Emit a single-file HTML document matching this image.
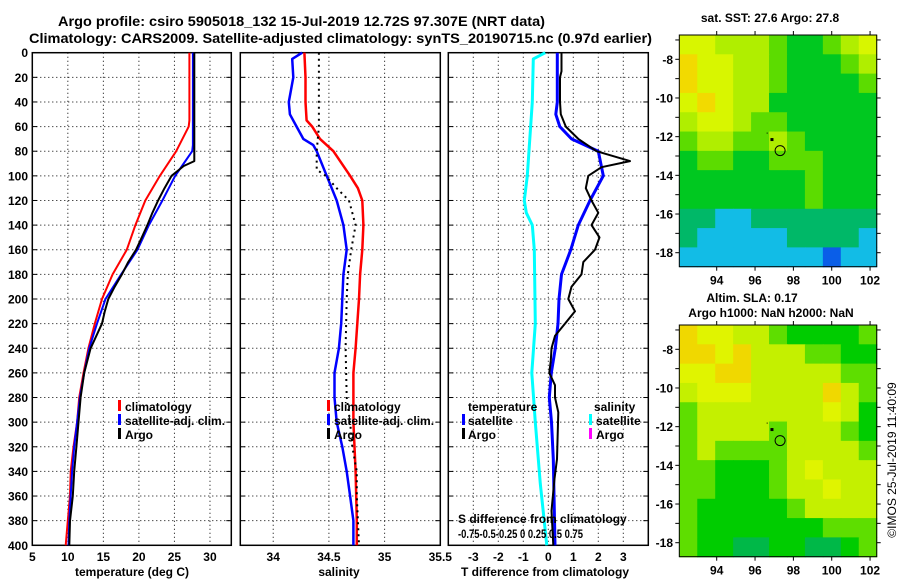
<!DOCTYPE html>
<html><head><meta charset="utf-8">
<style>
html,body{margin:0;padding:0;background:#fff;}
svg{display:block;font-family:"Liberation Sans",Arial,sans-serif;font-weight:bold;}
</style></head>
<body>
<svg id="fig" xmlns="http://www.w3.org/2000/svg" width="900" height="580" viewBox="0 0 900 580">
<rect x="0" y="0" width="900" height="580" fill="#fff"/>
<text x="58" y="26" font-size="14" textLength="487" lengthAdjust="spacingAndGlyphs">Argo profile: csiro 5905018_132 15-Jul-2019 12.72S 97.307E (NRT data)</text>
<text x="29" y="43" font-size="14" textLength="623" lengthAdjust="spacingAndGlyphs">Climatology: CARS2009. Satellite-adjusted climatology: synTS_20190715.nc (0.97d earlier)</text>
<text x="770" y="22" font-size="12" text-anchor="middle">sat. SST: 27.6 Argo: 27.8</text>
<text x="752" y="302" font-size="12" text-anchor="middle">Altim. SLA: 0.17</text>
<text x="771" y="317" font-size="12" text-anchor="middle">Argo h1000: NaN h2000: NaN</text>
<text x="0" y="0" font-size="12" font-weight="normal" text-anchor="middle" transform="translate(896,460) rotate(-90)">©IMOS 25-Jul-2019 11:40:09</text>
<g id="layer"></g>
</svg>
<script>
// ---- depth axis ----
const depthTicks = [0,20,40,60,80,100,120,140,160,180,200,220,240,260,280,300,320,340,360,380,400];
// ---- panel 1: temperature ----
const tClimDepth = [0,55,60,80,100,120,140,160,180,200,220,240,260,280,300,320,340,360,380,400];
const tClim = [27.1,27.1,27.0,25.25,22.95,20.9,19.5,18.3,16.3,14.8,13.8,12.9,12.2,11.6,11.3,10.8,10.4,10.3,10.0,9.7];
const tSatDepth = [0,75,80,90,100,120,140,160,180,200,220,240,260,280,300,320,340,360,380,400];
const tSat = [27.6,27.6,27.5,26.3,25.1,23.3,21.4,19.8,17.5,15.3,14.1,13.0,12.3,11.7,11.3,10.9,10.6,10.4,10.2,10.1];
const tArgoDepth = [0,88,92,100,110,120,130,140,150,160,170,180,190,200,210,220,240,260,280,300,320,340,360,380,400];
const tArgo = [27.8,27.8,26.3,24.6,23.6,22.7,21.9,21.2,20.4,19.6,18.5,17.6,16.6,15.7,15.2,14.8,13.2,12.3,11.8,11.5,11.2,10.9,10.7,10.3,10.2];
const tTicks = [5,10,15,20,25,30];
// ---- panel 2: salinity ----
const sClimDepth = [0,20,40,55,60,70,80,100,110,120,140,160,180,200,240,260,300,340,380,400];
const sClim = [34.28,34.29,34.29,34.30,34.35,34.42,34.54,34.69,34.76,34.80,34.81,34.80,34.78,34.77,34.74,34.72,34.72,34.74,34.75,34.75];
const sSatDepth = [0,5,20,40,50,60,70,75,80,100,120,140,160,180,200,220,240,260,280,300,320,340,360,380,400];
const sSat = [34.26,34.17,34.18,34.14,34.15,34.21,34.27,34.36,34.39,34.48,34.57,34.63,34.66,34.63,34.62,34.61,34.59,34.55,34.55,34.57,34.62,34.66,34.69,34.72,34.72];
const sArgoDepth = [0,60,70,80,95,100,110,120,140,160,180,200,240,280,300,320,340,360,380,400];
const sArgo = [34.41,34.41,34.40,34.39,34.39,34.47,34.57,34.68,34.74,34.70,34.67,34.66,34.65,34.66,34.69,34.71,34.75,34.75,34.76,34.77];
const sTicks = [34,34.5,35,35.5];
const sTickLabels = ["34","34.5","35","35.5"];
// ---- panel 3: differences ----
const dTSatDepth = [0,40,50,60,70,80,90,100,120,140,160,180,200,220,240,260,280,300,330,400];
const dTSat = [0.36,0.36,0.3,0.46,0.93,2.0,2.1,2.2,1.67,1.2,0.9,0.53,0.43,0.39,0.28,0.12,0.04,0.13,0.2,0.27];
const dTArgoDepth = [0,15,20,40,50,60,70,80,88,93,100,110,120,130,140,150,160,170,180,190,200,210,220,230,240,250,260,270,280,292,330,346,372,400];
const dTArgo = [0.53,0.53,0.47,0.47,0.5,0.7,1.2,1.93,3.27,2.13,1.6,1.5,1.73,2.0,1.73,2.05,1.87,1.4,1.33,0.93,0.8,1.07,0.67,0.27,0.13,0.1,0.04,0.27,0.27,0.4,0.35,0.25,0.13,0.2];
const dSSatDepth = [0,5,40,100,120,130,140,160,220,260,300,350,400];
const dSSat = [-0.03,-0.15,-0.16,-0.21,-0.24,-0.22,-0.16,-0.14,-0.13,-0.165,-0.13,-0.08,-0.015];
const dTTicks = [-3,-2,-1,0,1,2,3];
// ---- maps ----
const mapLonTicks = [94,96,98,100,102];
const mapLatTicks = [-8,-10,-12,-14,-16,-18];
const sstGrid = [
 [6,6,5,5,5,4,3,3,4,5,6],
 [7,6,6,5,5,4,3,3,3,4,5],
 [7,6,6,5,5,4,3,3,3,3,4],
 [6,7,6,5,5,3,3,3,3,3,3],
 [5,6,6,5,4,4,3,3,3,3,3],
 [4,5,5,4,4,5,4,3,3,3,3],
 [3,4,4,3,3,4,4,4,3,3,3],
 [3,3,3,3,3,3,3,4,3,3,3],
 [3,3,3,3,3,3,3,4,3,3,3],
 [2,2,1,1,2,2,2,2,2,2,2],
 [2,1,1,1,1,1,2,2,2,2,1],
 [1,1,1,0.5,0.5,0.5,0.5,0.5,0,0.5,1]];
const slaGrid = [
 [6,5,5,4,4,3,2,2,2,2,3],
 [6,6,5,6,4,4,4,3,3,2,2],
 [5,5,6,6,4,4,4,4,4,3,3],
 [4,5,5,5,4,4,4,4,6,4,3],
 [3,4,4,4,4,4,4,4,5,4,2],
 [3,4,4,4,4,3,4,4,4,3,2],
 [3,4,3,3,3,3,4,4,4,4,3],
 [3,3,2,2,2,3,4,5,4,4,4],
 [3,3,2,2,2,3,4,4,5,4,4],
 [3,2,2,2,2,2,3,4,4,4,4],
 [3,2,2,2,2,2,2,2,3,3,3],
 [3,2,2,1,1,2,2,1,1,2,3]];
const argoLon = [97.307];
const argoLat = [-12.72];

const NS="http://www.w3.org/2000/svg";
const layer=document.getElementById('layer');
function mk(tag,attrs,parent){const e=document.createElementNS(NS,tag);for(const k in attrs)e.setAttribute(k,attrs[k]);(parent||layer).appendChild(e);return e;}

const Y0=52.7,Y1=545.3;
const yD=d=>Y0+(d/400)*(Y1-Y0);

function panel(name,x0,x1,xmin,xmax,gridX){
  const xs=v=>x0+(v-xmin)/(xmax-xmin)*(x1-x0);
  const g=mk('g',{});
  
  
  depthTicks.forEach(d=>{
    if(d>0&&d<400){
      const l=mk('line',{x1:x0,x2:x1,y1:yD(d),y2:yD(d),stroke:'#000','stroke-width':1,'stroke-dasharray':'1 3'},g);
      
      
      const t1=mk('line',{x1:x0,x2:x0+5,y1:yD(d),y2:yD(d),stroke:'#000','stroke-width':1},g);
      
      
      const t2=mk('line',{x1:x1-5,x2:x1,y1:yD(d),y2:yD(d),stroke:'#000','stroke-width':1},g);
      
      
    }
  });
  gridX.forEach(v=>{
    const l=mk('line',{x1:xs(v),x2:xs(v),y1:Y0,y2:Y1,stroke:'#000','stroke-width':1,'stroke-dasharray':'1 3'},g);
    
    
  });
  const r=mk('rect',{x:x0,y:Y0,width:x1-x0,height:Y1-Y0,fill:'none',stroke:'#000','stroke-width':1.5},g);
  
  
  return {xs,g};
}
function series(p,vals,depths,color,w,name,dash){
  const pts=vals.map((v,i)=>p.xs(v).toFixed(1)+','+yD(depths[i]).toFixed(1)).join(' ');
  const a={points:pts,fill:'none',stroke:color,'stroke-width':w,'stroke-linejoin':'round'};
  if(dash)a['stroke-dasharray']=dash;
  const e=mk('polyline',a,p.g);
  
  
}
function txt(s,x,y,anchor,size,name,parent){
  const e=mk('text',{x:x,y:y,'text-anchor':anchor||'start','font-size':size||12},parent);
  e.textContent=s;
  
  
  return e;
}
function legendBar(x,y,color,name){
  const e=mk('rect',{x:x,y:y-10,width:3,height:11,fill:color});
  
  
}

depthTicks.forEach(d=>txt(String(d),28,yD(d)+4.5,'end',12,'depth-tick-label'));

// Panel 1
const p1=panel('temperature-panel',32.3,231.3,5,33,[10,15,20,25,30]);
series(p1,tClim,tClimDepth,'#f00',2,'temperature-climatology-line');
series(p1,tSat,tSatDepth,'#00f',2,'temperature-satellite-line');
series(p1,tArgo,tArgoDepth,'#000',2,'temperature-argo-line');
tTicks.forEach(v=>txt(String(v),p1.xs(v),561,'middle',12,'temperature-tick-label'));
txt('temperature (deg C)',132,576,'middle',12,'temperature-axis-title');
legendBar(118,410,'#f00','legend-climatology-marker');txt('climatology',125,411,'start',12,'legend-climatology');
legendBar(118,424,'#00f','legend-satellite-marker');txt('satellite-adj. clim.',125,425,'start',12,'legend-satellite');
legendBar(118,438,'#000','legend-argo-marker');txt('Argo',125,439,'start',12,'legend-argo');

// Panel 2
const p2=panel('salinity-panel',240.3,440.3,33.7045,35.5,[34,34.5,35]);
series(p2,sClim,sClimDepth,'#f00',2.5,'salinity-climatology-line');
series(p2,sSat,sSatDepth,'#00f',2.5,'salinity-satellite-line');
series(p2,sArgo,sArgoDepth,'#000',2,'salinity-argo-line','2 4');
sTicks.forEach((v,i)=>txt(sTickLabels[i],p2.xs(v),561,'middle',12,'salinity-tick-label'));
txt('salinity',339,576,'middle',12,'salinity-axis-title');
legendBar(327,410,'#f00','legend-climatology-marker');txt('climatology',334,411,'start',12,'legend-climatology');
legendBar(327,424,'#00f','legend-satellite-marker');txt('satellite-adj. clim.',334,425,'start',12,'legend-satellite');
legendBar(327,438,'#000','legend-argo-marker');txt('Argo',334,439,'start',12,'legend-argo');

// Panel 3
const p3=panel('difference-panel',448.3,648.3,-4,4,[-3,-2,-1,0,1,2,3]);
series(p3,dSSat.map(v=>v*4),dSSatDepth,'#0ff',3,'salinity-satellite-difference-line');
series(p3,dTSat,dTSatDepth,'#00f',3,'temperature-satellite-difference-line');
series(p3,dTArgo,dTArgoDepth,'#000',2,'temperature-argo-difference-line');
dTTicks.forEach(v=>txt(String(v),p3.xs(v),561,'middle',12,'difference-tick-label'));
txt('T difference from climatology',545,576,'middle',12,'difference-axis-title');
txt('temperature',468,411,'start',12,'legend-temperature-heading');
legendBar(462,424,'#00f','legend-t-satellite-marker');txt('satellite',468,425,'start',12,'legend-t-satellite');
legendBar(462,438,'#000','legend-t-argo-marker');txt('Argo',468,439,'start',12,'legend-t-argo');
txt('salinity',594,411,'start',12,'legend-salinity-heading');
legendBar(589,424,'#0ff','legend-s-satellite-marker');txt('satellite',596,425,'start',12,'legend-s-satellite');
legendBar(589,438,'#f0f','legend-s-argo-marker');txt('Argo',596,439,'start',12,'legend-s-argo');
txt('S difference from climatology',458,523,'start',12,'s-difference-axis-title');
const sdl=txt('-0.75-0.5-0.25  0  0.25 0.5 0.75',458,538,'start',12,'s-difference-tick-labels');
sdl.setAttribute('xml:space','preserve');
sdl.setAttribute('textLength','125');
sdl.setAttribute('lengthAdjust','spacingAndGlyphs');

// Maps
const sstColors=['#0a5ee8','#12bce6','#00b868','#00c820','#5cdc00','#b0ee00','#d8f600','#f2da00'];
const slaColors=['#00a050','#00b848','#00cc00','#5ede00','#c4f000','#e0f400','#f0d800'];
function colorAt(pal,v){const i=Math.max(0,Math.min(pal.length-1,Math.round(v)));return pal[i];}
function map(name,grid,pal,top,bottom,latRef){
  const X0=679.3,X1=876.7;
  const lonX=lon=>716.7+(lon-94)*19.17;
  const latY=lat=>latRef+(-8-lat)*19.34;
  const g=mk('g',{});
  
  
  const rows=grid.length,cols=grid[0].length;
  const cw=(X1-X0)/cols,ch=(bottom-top)/rows;
  grid.forEach((row,ri)=>row.forEach((v,ci)=>{
    const c=mk('rect',{x:(X0+ci*cw).toFixed(2),y:(top+ri*ch).toFixed(2),width:(cw+0.6).toFixed(2),height:(ch+0.6).toFixed(2),fill:colorAt(pal,v)},g);
    
    
  }));
  const fr=mk('rect',{x:X0,y:top,width:X1-X0,height:bottom-top,fill:'none',stroke:'#000','stroke-width':1},g);
  
  
  mapLonTicks.forEach(lon=>{
    const a=mk('line',{x1:lonX(lon),x2:lonX(lon),y1:top-4,y2:top,stroke:'#000'},g);
    
    
    const b=mk('line',{x1:lonX(lon),x2:lonX(lon),y1:bottom,y2:bottom+4,stroke:'#000'},g);
    
    
    txt(String(lon),lonX(lon),bottom+18,'middle',12,'lon-tick-label',g);
  });
  for(let lat=-7;lat>=-18;lat--){
    const a=mk('line',{x1:X0-4,x2:X0,y1:latY(lat),y2:latY(lat),stroke:'#000'},g);
    
    
    const b=mk('line',{x1:X1,x2:X1+4,y1:latY(lat),y2:latY(lat),stroke:'#000'},g);
    
    
  }
  mapLatTicks.forEach(lat=>txt(String(lat),673,latY(lat)+4.5,'end',12,'lat-tick-label',g));
  argoLon.forEach((lon,i)=>{
    const c=mk('circle',{cx:lonX(lon),cy:latY(argoLat[i]),r:5,fill:'none',stroke:'#000','stroke-width':1},g);
    
    
    const d=mk('rect',{x:lonX(lon-0.45)-1,y:latY(argoLat[i]+0.57)-1.5,width:3,height:3,fill:'#000'},g);
    
    
    const d2=mk('rect',{x:lonX(lon-0.7),y:latY(argoLat[i]+0.93),width:1,height:1,fill:'#000'},g);
    
    
  });
}
map('sst-map',sstGrid,sstColors,35,266.7,59.3);
map('sla-map',slaGrid,slaColors,325,556.7,349.3);
</script>
</body></html>
